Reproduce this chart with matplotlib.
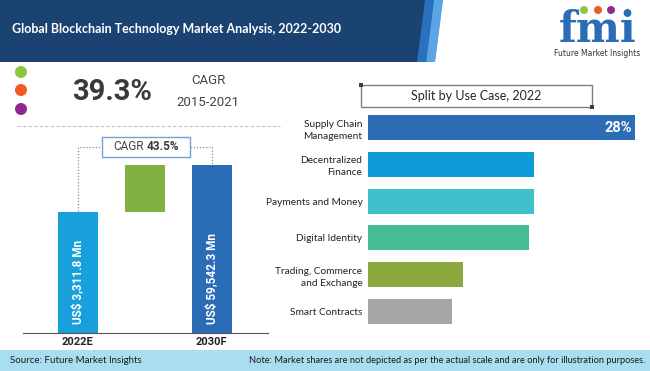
import matplotlib.pyplot as plt
from matplotlib.patches import Rectangle, Polygon, Circle

# left panel data (bar heights are illustrative, as in the source)
years = ['2022E', '2030F']
bar_heights = [72, 28, 100]          # 2022 base, growth step, 2030 total
value_labels = ['US$ 3,311.8 Mn', 'US$ 59,542.3 Mn']
cagr_hist = '39.3%'
cagr_hist_period = '2015-2021'
cagr_fcst = '43.5%'

# right panel data
use_cases = ['Supply Chain\nManagement', 'Decentralized\nFinance', 'Payments and Money',
             'Digital Identity', 'Trading, Commerce\nand Exchange', 'Smart Contracts']
shares = [28, 17.4, 17.4, 16.9, 10.0, 8.8]
case_colors = ['#2d6db5', '#0c9bd7', '#40bfcc', '#46bd94', '#8aa83c', '#a6a6a6']

W, H = 650, 371
fig = plt.figure(figsize=(6.5, 3.71), dpi=100)
fig.patch.set_facecolor('white')

# background / decoration layer in pixel coords
bg = fig.add_axes([0, 0, 1, 1])
bg.set_xlim(0, W)
bg.set_ylim(H, 0)
bg.axis('off')

# header
bg.add_patch(Rectangle((0, 0), W, 62, color='#1b4372', lw=0))
bg.add_patch(Polygon([(425, 0), (434, 0), (426, 62), (417, 62)], color='#2a6fc0', lw=0))
bg.add_patch(Polygon([(434, 0), (443, 0), (435, 62), (426, 62)], color='#5aa5e6', lw=0))
bg.add_patch(Polygon([(443, 0), (W, 0), (W, 62), (435, 62)], color='white', lw=0))
bg.text(12, 29, 'Global Blockchain Technology Market Analysis, 2022-2030', color='white',
        fontsize=9, fontweight='bold', family='Lato', va='center', ha='left')

# logo
bg.text(598, 42, 'fmi', color='#2a6cb5', fontsize=30, fontweight='bold', family='DejaVu Serif',
        ha='center', va='baseline')
for yy in range(16, 44, 3):
    bg.plot([555, 640], [yy, yy], color='white', lw=0.6)
for cx, c in zip([584, 598, 611], ['#8dc63f', '#f15a24', '#92278f']):
    bg.add_patch(Circle((cx, 10), 4, color=c, lw=0))
bg.text(597, 53, 'Future Market Insights', color='#333333', fontsize=5.5, ha='center', va='center')

# footer
bg.add_patch(Rectangle((0, 350), W, 21, color='#a9ddf0', lw=0))
bg.text(10, 360.5, 'Source: Future Market Insights', fontsize=7, family='Lato', color='#1a1a1a', va='center')
bg.text(645, 360.5, 'Note: Market shares are not depicted as per the actual scale and are only for illustration purposes.',
        fontsize=6.7, family='Lato', color='#1a1a1a', va='center', ha='right')

# colour dots
for cy, c in zip([72, 90, 109], ['#8dc63f', '#f15a24', '#92278f']):
    bg.add_patch(Circle((21, cy), 6, color=c, lw=0))

bg.text(112, 92, cagr_hist, fontsize=21, fontweight='bold', family='Roboto', color='#3a3a3a',
        ha='center', va='center')
bg.text(208, 80, 'CAGR', fontsize=9.5, family='Roboto', color='#444444', ha='center', va='center')
bg.text(208, 103, cagr_hist_period, fontsize=9.5, family='Roboto', color='#444444', ha='center', va='center')
bg.plot([17, 280], [126, 126], color='#c0c0c0', lw=0.8, dashes=(3, 2))

# CAGR bracket
bg.plot([78, 78, 102], [211, 147, 147], color='#8a8a8a', lw=0.9, dashes=(1, 1.5))
bg.plot([190, 212, 212], [147, 147, 164], color='#8a8a8a', lw=0.9, dashes=(1, 1.5))
bg.add_patch(Rectangle((102, 137), 88, 20, fc='white', ec='#6fa3d8', lw=1))
bg.text(144, 147, 'CAGR', fontsize=8.5, family='Roboto', color='#444444', ha='right', va='center')
bg.text(147, 147, cagr_fcst, fontsize=8.5, family='Roboto', fontweight='bold', color='#3a3a3a',
        ha='left', va='center')

# right title box
bg.add_patch(Rectangle((361, 85), 231, 22, fc='white', ec='#7f7f7f', lw=1))
bg.add_patch(Rectangle((359, 83), 4, 4, color='#404040', lw=0))
bg.add_patch(Rectangle((590, 105), 4, 4, color='#404040', lw=0))
bg.text(476, 96, 'Split by Use Case, 2022', fontsize=9, family='Lato', color='#262626',
        ha='center', va='center')

# left bar chart
axL = fig.add_axes([23 / W, (H - 333) / H, 245 / W, 168 / H])
axL.set_facecolor('none')
axL.bar(0, bar_heights[0], width=0.6, color='#17a0dc')
axL.bar(1, bar_heights[1], bottom=bar_heights[0], width=0.6, color='#80b142')
axL.bar(2, bar_heights[2], width=0.6, color='#2b6cb7')
axL.set_xlim(-0.82, 2.84)
axL.set_ylim(0, 100)
for s in ['top', 'right', 'left']:
    axL.spines[s].set_visible(False)
axL.spines['bottom'].set_color('#555555')
axL.set_yticks([])
axL.set_xticks([0, 2])
axL.set_xticklabels(years, fontsize=8, fontweight='bold', family='Roboto', color='#222222')
axL.tick_params(axis='x', length=0, pad=3)
for xi, lab in zip([0, 2], value_labels):
    axL.text(xi, 5.4, lab, rotation=90, color='white', fontsize=8.5, fontweight='bold',
             family='Roboto', ha='center', va='bottom')

# right bar chart
axR = fig.add_axes([368 / W, (H - 324) / H, 267 / W, 209 / H])
axR.set_facecolor('none')
ypos = list(range(len(use_cases)))
axR.barh(ypos, shares, height=0.68, color=case_colors)
axR.set_xlim(0, 28)
axR.set_ylim(5.34, -0.34)
for s in axR.spines.values():
    s.set_visible(False)
axR.set_xticks([])
axR.set_yticks(ypos)
axR.set_yticklabels(use_cases, fontsize=7.3, family='Lato', color='#222222', linespacing=1.45)
axR.tick_params(axis='y', length=0, pad=4)
axR.text(shares[0] - 1.8, 0, f'{shares[0]:.0f}%', color='white', fontsize=10.5, fontweight='bold',
         family='Roboto', ha='center', va='center')

fig.savefig('out.png', dpi=100)
